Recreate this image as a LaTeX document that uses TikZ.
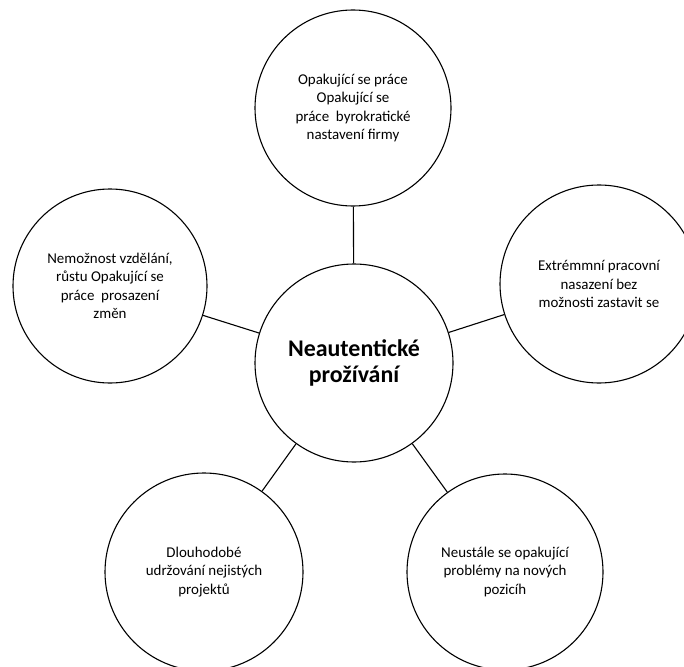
\documentclass[tikz,border=0pt]{standalone}
\usepackage{fontspec}
\setmainfont{Carlito}
\begin{document}
\begin{tikzpicture}[x=1bp,y=-1bp,
  bubble/.style={circle, draw=black, line width=1.1bp, inner sep=0pt,
    minimum size=#1, align=center,
    font=\fontsize{15}{18.4}\selectfont},
  hub/.style={circle, draw=black, line width=1.1bp, inner sep=0pt,
    minimum size=198bp, align=center,
    font=\fontsize{24}{27}\selectfont\bfseries},
  spoke/.style={line width=1.1bp, draw=black}]
\useasboundingbox (0,0) rectangle (684,667);

\node[hub] (c) at (354,363) {Neautentické\\prožívání};

\node[bubble=196bp] (top) at (353,108)
  {Opakující se práce\\Opakující se\\práce\ \ byrokratické\\nastavení firmy};
\node[bubble=198bp] (right) at (599,284)
  {Extrémmní pracovní\\nasazení bez\\možnosti zastavit se};
\node[bubble=194bp] (left) at (110,286)
  {Nemožnost vzdělání,\\růstu Opakující se\\práce\ \ prosazení\\změn};
\node[bubble=198bp] (bl) at (204,572)
  {Dlouhodobé\\udržování nejistých\\projektů};
\node[bubble=196bp] (br) at (505,572)
  {Neustále se opakující\\problémy na nových\\pozicíh};

\foreach \n in {top,right,left,bl,br}
  \draw[spoke] (c) -- (\n);
\end{tikzpicture}
\end{document}
